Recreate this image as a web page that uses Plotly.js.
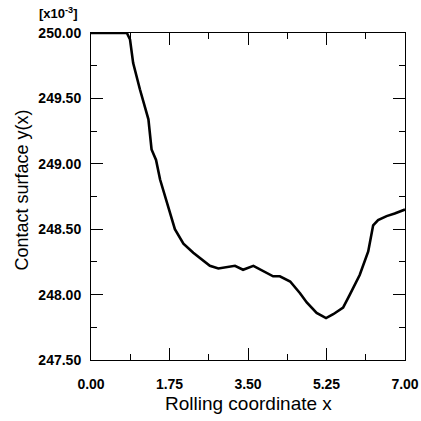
<!DOCTYPE html>
<html>
<head>
<meta charset="utf-8">
<script src="https://cdn.plot.ly/plotly-3.0.1.min.js"></script>
<style>html,body{margin:0;padding:0;background:#fff;}#chart{width:421px;height:421px;}</style>
</head>
<body>
<div id="chart"></div>
<script>
const xValues = [0.00, 0.40, 0.80, 0.87, 0.94, 1.09, 1.28, 1.35, 1.45, 1.54, 1.70, 1.87, 2.06, 2.28, 2.65, 2.84, 3.21, 3.39, 3.62, 3.84, 4.06, 4.21, 4.44, 4.66, 4.81, 5.03, 5.24, 5.40, 5.62, 5.77, 5.99, 6.18, 6.29, 6.40, 6.59, 6.77, 7.00];
const yValues = [250.00, 250.00, 250.00, 249.95, 249.77, 249.57, 249.34, 249.11, 249.03, 248.88, 248.70, 248.50, 248.39, 248.32, 248.22, 248.20, 248.22, 248.19, 248.22, 248.18, 248.14, 248.14, 248.10, 248.01, 247.94, 247.86, 247.82, 247.85, 247.90, 248.00, 248.15, 248.33, 248.53, 248.57, 248.60, 248.62, 248.65];
const xTicks = [0, 1.75, 3.5, 5.25, 7];
const xTickLabels = ["0.00", "1.75", "3.50", "5.25", "7.00"];
const yTicks = [247.5, 248.0, 248.5, 249.0, 249.5, 250.0];
const yTickLabels = ["247.50", "248.00", "248.50", "249.00", "249.50", "250.00"];
const xMinorTicks = [0.875, 2.625, 4.375, 6.125];
const yMinorTicks = [247.75, 248.25, 248.75, 249.25, 249.75];
const xTitle = "Rolling coordinate x";
const yTitle = "Contact surface y(x)";
const scaleLabel = "<b>[x10<sup>-3</sup>]</b>";

const fontFam = "Liberation Sans";
const bold = a => a.map(s => "<b>" + s + "</b>");
const data = [{
  x: xValues, y: yValues, type: "scatter", mode: "lines",
  line: {color: "#000", width: 2.6}, hoverinfo: "skip"
}];
const axisCommon = {
  ticks: "inside", ticklen: 12, tickwidth: 1, tickcolor: "#000",
  showline: true, linecolor: "#000", linewidth: 1, mirror: "allticks",
  showgrid: false, zeroline: false,
  tickfont: {size: 14, family: fontFam, color: "#000"}
};
const layout = {
  width: 421, height: 421,
  margin: {l: 91, r: 16, t: 33, b: 61},
  paper_bgcolor: "#fff", plot_bgcolor: "#fff",
  showlegend: false,
  font: {family: fontFam, color: "#000", size: 12},
  xaxis: Object.assign({}, axisCommon, {
    range: [0, 7], tickmode: "array", tickvals: xTicks, ticktext: bold(xTickLabels),
    ticklabelstandoff: 11,
    minor: {ticks: "inside", ticklen: 6, tickcolor: "#000", tickwidth: 1, tickvals: xMinorTicks, showgrid: false}
  }),
  yaxis: Object.assign({}, axisCommon, {
    range: [247.5, 250.0], tickmode: "array", tickvals: yTicks, ticktext: bold(yTickLabels),
    ticklabelstandoff: 6,
    minor: {ticks: "inside", ticklen: 6, tickcolor: "#000", tickwidth: 1, tickvals: yMinorTicks, showgrid: false}
  }),
  annotations: [
    {text: scaleLabel, xref: "paper", yref: "paper", x: -0.038, y: 1.031,
     xanchor: "right", yanchor: "bottom", showarrow: false,
     font: {size: 13, family: fontFam, color: "#000"}},
    {text: xTitle, xref: "paper", yref: "paper", x: 0.5, y: -0.134,
     xanchor: "center", yanchor: "middle", showarrow: false,
     font: {size: 19, family: fontFam, color: "#000"}},
    {text: yTitle, xref: "paper", yref: "paper", x: -0.2213, y: 0.52,
     xanchor: "center", yanchor: "middle", showarrow: false, textangle: -90,
     font: {size: 18, family: fontFam, color: "#000"}}
  ]
};
Plotly.newPlot("chart", data, layout, {staticPlot: true, displayModeBar: false});
</script>
</body>
</html>
